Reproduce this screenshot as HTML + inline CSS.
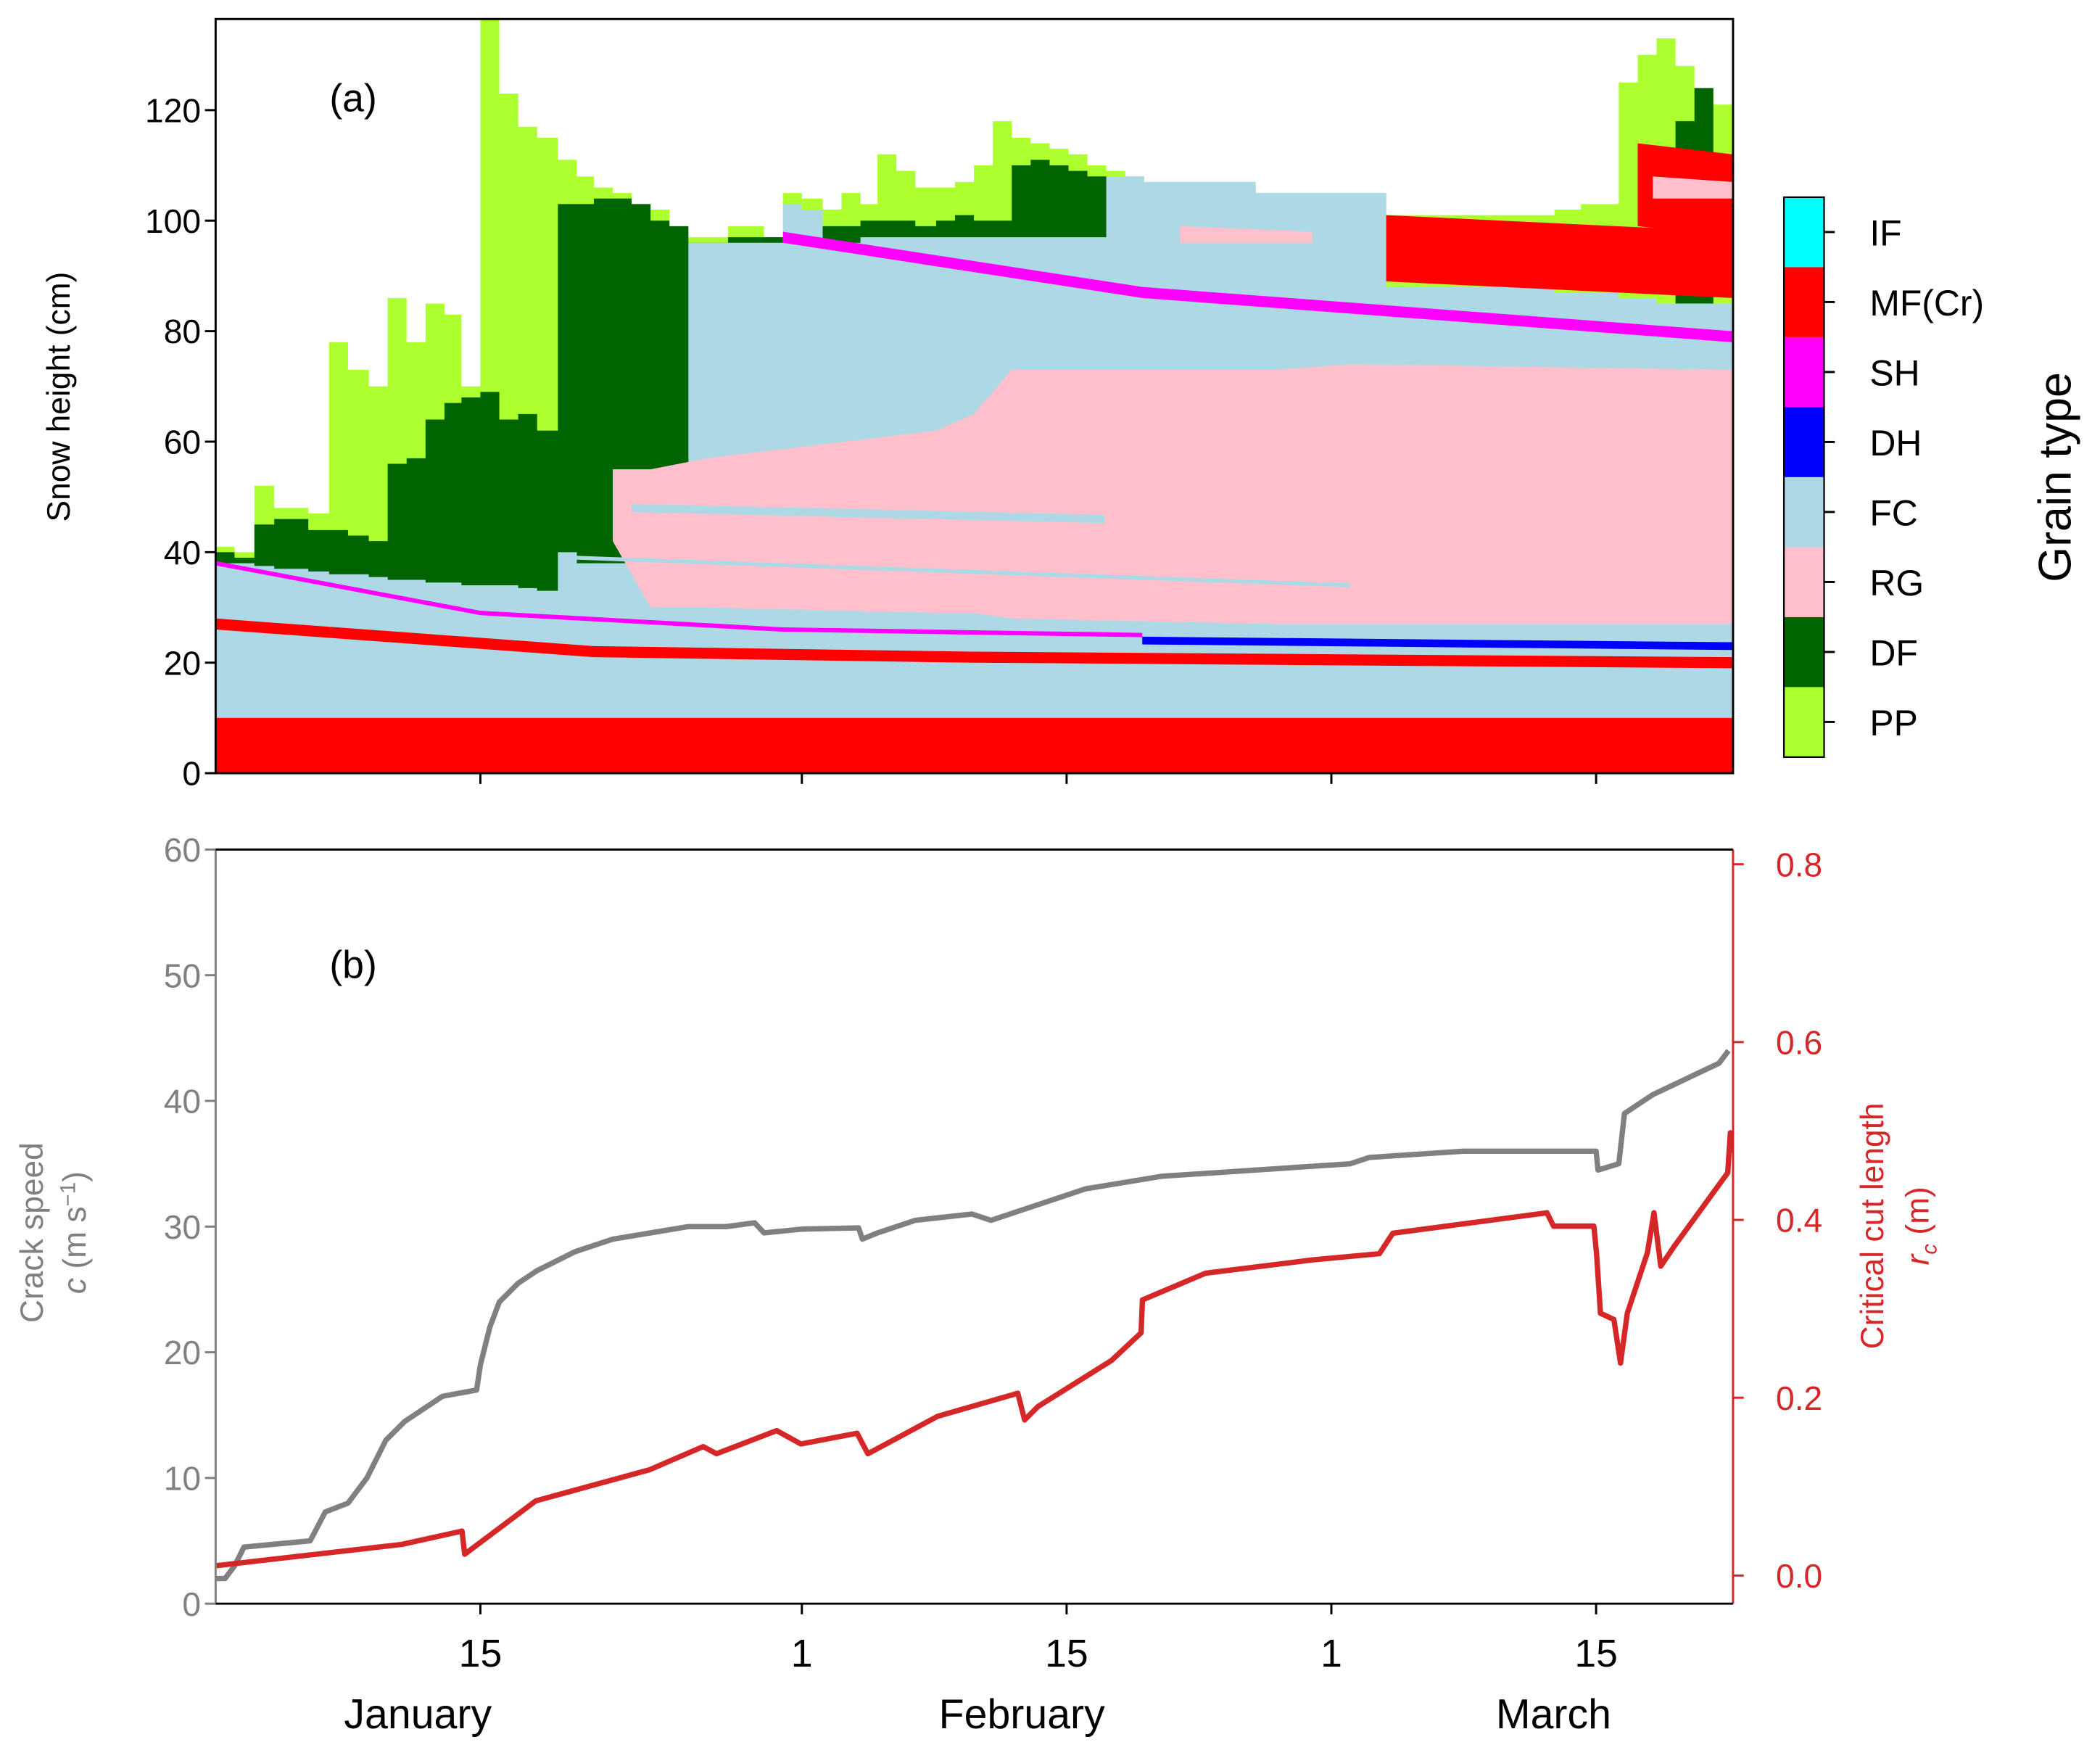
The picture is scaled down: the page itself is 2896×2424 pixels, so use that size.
<!DOCTYPE html>
<html><head><meta charset="utf-8"><style>
html,body{margin:0;padding:0;background:#fff}
svg{display:block}
text{font-family:"Liberation Sans","DejaVu Sans",sans-serif}
</style></head><body>
<svg id="chart" width="2896" height="2424" viewBox="0 0 1568 1312" xmlns="http://www.w3.org/2000/svg">
<g id="panelA"></g>
<g id="panelB"></g>
</svg>
<script>
const snowDays=[0,1,2.05,3.1,4.9,6,7,8.1,9.1,10.1,11.1,12.1,13,14,15,16,17,18.1,19.1,20,21,22,23,24,25,26,27.1,28,29,30,31,32.1,33.1,34.1,35,36,37,38.1,39.1,40.1,41.1,42.1,43.1,44.1,45.1,46.1,47.1,48.1,49.1,55,61.9,70.8,72.2,74.2,75.2,76.2,77.2,78.2,79.2];
const snowTop=[41,40,52,48,47,78,73,70,86,78,85,83,70,137,123,117,115,111,108,106,105,103,102,98,97,97,99,99,97,105,104,102,105,103,112,109,106,106,107,110,118,115,114,113,112,110,109,108,107,105,101,102,103,125,130,133,128,124,121];
const dfTop=[40,39,45,46,44,44,43,42,56,57,64,67,68,69,64,65,62,103,103,104,104,103,100,99,96,96,97,97,97,0,0,99,99,100,100,100,99,100,101,100,100,110,111,110,109,108,0,0,0,0,0,0,0,0,0,0,118,124,0];
const fcTop=[38,38,37.5,37,36.5,36,36,35.5,35,35,34.5,34.5,34,34,34,33.5,33,40,38,38,38,38,38,38,96,96,96,96,96,103,102,96,96,97,97,97,97,97,97,97,97,97,97,97,97,97,108,108,107,105,88,87,87,86,86,85,85,85,85];
const pinkDays=[21,23,26,38.1,40.1,42.1,56,60,80.2];
const pinkLow=[42,30,30,29,29,28,27,27,27];
const pinkHigh=[55,55,57,62,65,73,73,74,73];
const shLowDays=[0,14,30,49];const shLow=[38,29,26,25];
const shHighDays=[30,49,80.2];const shHigh=[97,87,79];
const crustDays=[0,20,40,80.2];const crust=[27,22,21,20];
const dhDays=[49,80.2];const dh=[24,23];
const mfDays=[61.9,80.2];const mfLow=[89,86];const mfHigh=[101,98];
const classes=["IF","MF(Cr)","SH","DH","FC","RG","DF","PP"];
const classColors=["#00ffff","#ff0000","#ff00ff","#0000ff","#add8e6","#ffc0cb","#006400","#adff2f"];
const speedDays=[0,0.5,1,1.5,5,5.8,7,8,9,10,11,12,13.8,14,14.5,15,16,17,19,21,23,25,27,28.5,29,31,34,34.2,35,37,40,41,42,44,46,48,50,55,60,61,66,70,73,73.1,74.2,74.5,75.5,76,79.5,80];
const speed=[2,2,3,4.5,5,7.3,8,10,13,14.5,15.5,16.5,17,19,22,24,25.5,26.5,28,29,29.5,30,30,30.3,29.5,29.8,29.9,29,29.5,30.5,31,30.5,31,32,33,33.5,34,34.5,35,35.5,36,36,36,34.5,35,39,40,40.5,43,44];
const rcDays=[0,9.84,13.03,13.17,16.93,22.95,25.78,26.49,29.67,30.95,33.92,34.49,38.17,42.42,42.78,43.48,47.38,48.94,49.01,52.34,58.0,61.54,62.25,66.5,70.4,70.75,72.88,73.02,73.23,73.94,74.29,74.65,75.71,76.06,76.42,77.12,79.96,80.1,80.24];
const rc=[0.011,0.035,0.05,0.024,0.084,0.119,0.145,0.137,0.163,0.148,0.160,0.137,0.179,0.205,0.175,0.190,0.242,0.273,0.310,0.340,0.355,0.362,0.385,0.397,0.408,0.393,0.393,0.363,0.295,0.288,0.239,0.295,0.363,0.408,0.348,0.370,0.453,0.498,0.476];
const leftTicks=[0,10,20,30,40,50,60];
const rightTicks=[0.0,0.2,0.4,0.6,0.8];
const topTicks=[0,20,40,60,80,100,120];
const dateTickDays=[14,31,45,59,73];
const dateTickLabels=["15","1","15","1","15"];

const NS="http://www.w3.org/2000/svg";
function mk(p,tag,at,txt){const e=document.createElementNS(NS,tag);for(const k in at)e.setAttribute(k,at[k]);if(txt!==undefined)e.textContent=txt;p.appendChild(e);return e;}
const X0=161,X1=1294,PXD=14.12;
const xd=d=>Math.min(X1,X0+d*PXD);
const yt=h=>577-h*4.125;
const yl=v=>1197-v*(563/60);
const yr=v=>1176-v*663.75;
const panelA=document.getElementById('panelA'),panelB=document.getElementById('panelB');
mk(panelA,'defs',{}).innerHTML='<clipPath id="cpa"><rect x="161" y="14" width="1133" height="563"/></clipPath><clipPath id="cpb"><rect x="161" y="634" width="1133" height="563"/></clipPath>';
const g=mk(panelA,'g',{'clip-path':'url(#cpa)'});
function stepArea(days,vals,color,name){
  let d='M'+xd(days[0])+','+yt(0);
  for(let i=0;i<days.length;i++){const xe=i+1<days.length?xd(days[i+1]):X1;d+=' L'+xd(days[i])+','+yt(vals[i])+' L'+xe+','+yt(vals[i]);d+=' L'+xe+','+yt(0);}
  const e=mk(g,'path',{d:d+'Z',fill:color});
  
  
}
stepArea(snowDays,snowTop,'#adff2f','pp-area');
stepArea(snowDays,dfTop,'#006400','df-area');
stepArea(snowDays,fcTop,'#add8e6','fc-area');
function band(days,lo,hi,color,name){
  let pts=days.map((d,i)=>xd(d)+','+yt(hi[i]));
  pts=pts.concat(days.map((d,i)=>xd(d)+','+yt(lo[i])).reverse());
  const e=mk(g,'polygon',{points:pts.join(' '),fill:color});
  
  
}
function line(days,vals,th,color,name){
  band(days,vals.map(v=>v-th/2),vals.map(v=>v+th/2),color,name);
}
band(pinkDays,pinkLow,pinkHigh,'#ffc0cb','rg-area');
line([19,60],[39,34],0.7,'#add8e6','fc-streak-1');
line([22,47],[48,46],1.5,'#add8e6','fc-streak-2');
band([51,58],[96,96],[99,98],'#ffc0cb','rg-patch');
line(shLowDays,shLow,0.8,'#ff00ff','sh-lower');
line(shHighDays,shHigh,2,'#ff00ff','sh-upper');
line(crustDays,crust,2,'#ff0000','mf-crust');
line(dhDays,dh,1.4,'#0000ff','dh-layer');
band([0,80.2],[0,0],[10,10],'#ff0000','mf-base');
band(mfDays,mfLow,mfHigh,'#ff0000','mf-upper');
band([75.2,80.2],[99,97],[114,112],'#ff0000','mf-top');
band([76,80.2],[104,104],[108,107],'#ffc0cb','rg-top');
mk(panelA,'rect',{x:161,y:14,width:1133,height:563,fill:'none',stroke:'#000','stroke-width':1.6,});
topTicks.forEach(v=>{const y=yt(v);mk(panelA,'line',{x1:153,x2:161,y1:y,y2:y,stroke:'#000','stroke-width':1.6});
 const t=mk(panelA,'text',{x:150,y:y+9,'text-anchor':'end','font-size':25},v);
 
 });
dateTickDays.forEach(d=>{mk(panelA,'line',{x1:xd(d),x2:xd(d),y1:577,y2:585,stroke:'#000','stroke-width':1.6});});
mk(panelA,'text',{x:246,y:83,'font-size':29,},'(a)');
mk(panelA,'text',{transform:'translate(52,296) rotate(-90)','text-anchor':'middle','font-size':24,},'Snow height (cm)');
classes.forEach((c,i)=>{const y=147+i*52.25;
 const r=mk(panelA,'rect',{x:1332,y:y,width:30,height:52.25,fill:classColors[i]});
 
 
 mk(panelA,'line',{x1:1362,x2:1370,y1:y+26,y2:y+26,stroke:'#000','stroke-width':1.6});
 const t=mk(panelA,'text',{x:1396,y:y+36,'font-size':27},c);
 
 });
mk(panelA,'rect',{x:1332,y:147,width:30,height:418,fill:'none',stroke:'#000','stroke-width':1.2,});
mk(panelA,'text',{transform:'translate(1546,356) rotate(-90)','text-anchor':'middle','font-size':34,},'Grain type');

const gb=mk(panelB,'g',{'clip-path':'url(#cpb)'});
function pl(days,vals,yf,color,name){
  const e=mk(gb,'polyline',{points:days.map((d,i)=>xd(d)+','+yf(vals[i])).join(' '),fill:'none',stroke:color,'stroke-width':4,'stroke-linejoin':'round'});
  
  
}
pl(speedDays,speed,yl,'#808080','crack-speed-line');
pl(rcDays,rc,yr,'#d62728','critical-cut-length-line');
mk(panelB,'line',{x1:161,x2:161,y1:634,y2:1197,stroke:'#808080','stroke-width':1.6});
mk(panelB,'line',{x1:1294,x2:1294,y1:634,y2:1197,stroke:'#d62728','stroke-width':1.6});
mk(panelB,'line',{x1:161,x2:1294,y1:1197,y2:1197,stroke:'#000','stroke-width':1.6});
mk(panelB,'line',{x1:161,x2:1294,y1:634,y2:634,stroke:'#000','stroke-width':1.6});
leftTicks.forEach(v=>{const y=yl(v);mk(panelB,'line',{x1:153,x2:161,y1:y,y2:y,stroke:'#808080','stroke-width':1.6});
 const t=mk(panelB,'text',{x:150,y:y+9,'text-anchor':'end','font-size':25,fill:'#808080'},v);
 
 });
rightTicks.forEach(v=>{const y=yr(v);mk(panelB,'line',{x1:1294,x2:1302,y1:y,y2:y,stroke:'#d62728','stroke-width':1.6});
 const t=mk(panelB,'text',{x:1326,y:y+9,'font-size':25,fill:'#d62728'},v.toFixed(1));
 
 });
dateTickDays.forEach((d,i)=>{const x=xd(d);mk(panelB,'line',{x1:x,x2:x,y1:1197,y2:1205,stroke:'#000','stroke-width':1.6});
 const t=mk(panelB,'text',{x:x,y:1244,'text-anchor':'middle','font-size':29},dateTickLabels[i]);
 
 });
[["January",312],["February",763],["March",1160]].forEach(m=>{const t=mk(panelB,'text',{x:m[1],y:1290,'text-anchor':'middle','font-size':31},m[0]);
 
 });
mk(panelB,'text',{x:246,y:730,'font-size':29,},'(b)');
mk(panelB,'text',{transform:'translate(32,920) rotate(-90)','text-anchor':'middle','font-size':24,fill:'#808080',},'Crack speed');
mk(panelB,'text',{transform:'translate(64,920) rotate(-90)','text-anchor':'middle','font-size':24,fill:'#808080',}).innerHTML='<tspan font-style="italic">c</tspan> (m s<tspan dy="-8" font-size="16">−1</tspan><tspan dy="8">)</tspan>';
mk(panelB,'text',{transform:'translate(1406,915) rotate(-90)','text-anchor':'middle','font-size':24,fill:'#d62728',},'Critical cut length');
mk(panelB,'text',{transform:'translate(1440,915) rotate(-90)','text-anchor':'middle','font-size':24,fill:'#d62728',}).innerHTML='<tspan font-style="italic">r</tspan><tspan font-style="italic" dy="6" font-size="16">c</tspan><tspan dy="-6"> (m)</tspan>';
</script>
</body></html>
